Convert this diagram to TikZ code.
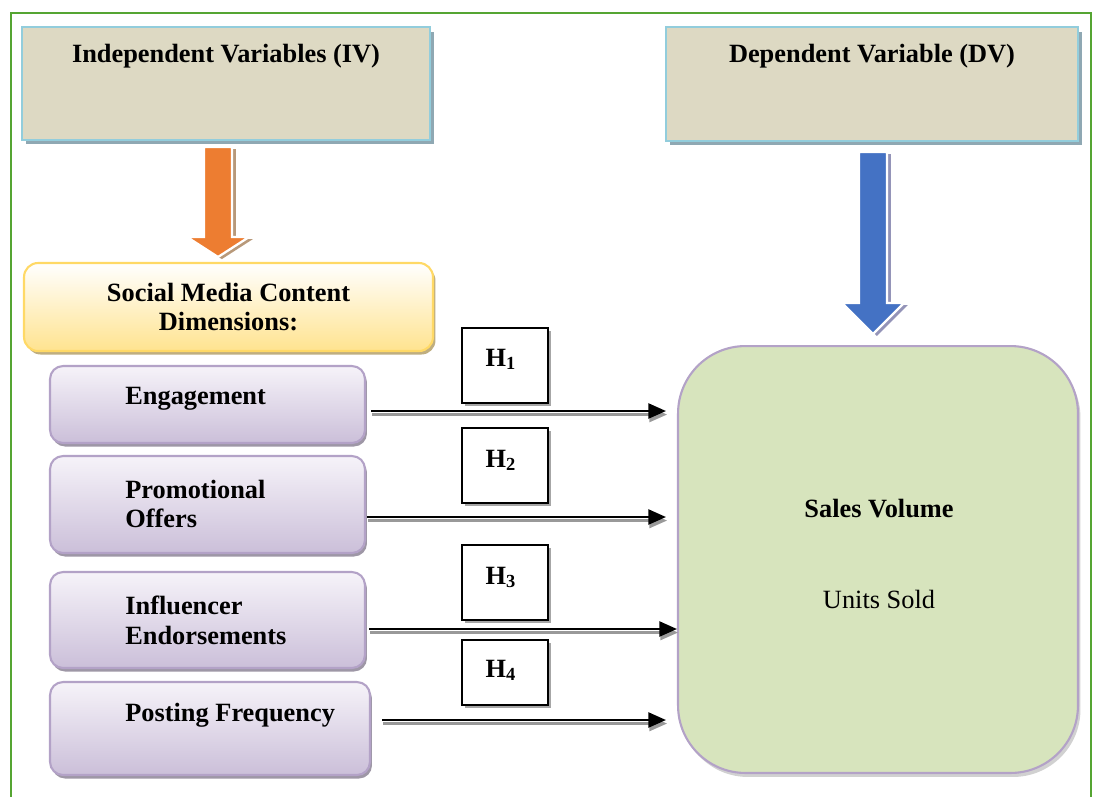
\documentclass[tikz,border=0pt]{standalone}
\usepackage{fontspec}
\setmainfont{Liberation Serif}
\usetikzlibrary{positioning}
\usetikzlibrary{arrows.meta}
\usetikzlibrary{shadows}
\definecolor{framegreen}{HTML}{55A532}
\definecolor{boxtan}{HTML}{DDD9C3}
\definecolor{boxblue}{HTML}{92CDDC}
\definecolor{boxshadow}{HTML}{8FA8B3}
\definecolor{dimyellow}{HTML}{FFE38F}
\definecolor{dimborder}{HTML}{FFD966}
\definecolor{dimshadow}{HTML}{BFAE80}
\definecolor{lavtop}{HTML}{F6F3F9}
\definecolor{lavbottom}{HTML}{CBBFD9}
\definecolor{lavborder}{HTML}{B3A2C7}
\definecolor{lavshadow}{HTML}{9E97A6}
\definecolor{salesgreen}{HTML}{D7E4BD}
\definecolor{arrorange}{HTML}{ED7D31}
\definecolor{arrblue}{HTML}{4472C4}
\tikzset{
    varbox/.style = {rectangle, draw=boxblue, line width=1.3pt, fill=boxtan, minimum width=8.16cm, minimum height=2.26cm,
        drop shadow={shadow xshift=0.08cm, shadow yshift=-0.09cm, fill=boxshadow, opacity=1}},
    dimbox/.style = {rectangle, rounded corners=0.28cm, draw=dimborder, line width=1.2pt, top color=white, bottom color=dimyellow,
        minimum width=8.18cm, minimum height=1.76cm, align=center, font=\bfseries\fontsize{15}{17}\selectfont,
        drop shadow={shadow xshift=0.05cm, shadow yshift=-0.07cm, fill=dimshadow, opacity=1}},
    lavbox/.style = {rectangle, rounded corners=0.26cm, draw=lavborder, line width=1.2pt, top color=lavtop, bottom color=lavbottom,
        minimum width=6.3cm, drop shadow={shadow xshift=0.04cm, shadow yshift=-0.07cm, fill=lavshadow, opacity=1}},
    hbox/.style = {rectangle, draw=black, line width=1.1pt, fill=white, minimum width=1.72cm, minimum height=1.5cm,
        drop shadow={shadow xshift=0.06cm, shadow yshift=-0.06cm, fill=gray!70, opacity=1}},
    salesbox/.style = {rectangle, rounded corners=1.35cm, draw=lavborder, line width=1.2pt, fill=salesgreen,
        minimum width=8cm, minimum height=8.54cm,
        drop shadow={shadow xshift=0.05cm, shadow yshift=-0.08cm, fill=black, opacity=0.18}},
    boldtext/.style = {inner sep=0pt, font=\bfseries\fontsize{15}{17}\selectfont},
    plaintext/.style = {inner sep=0pt, font=\fontsize{15}{17}\selectfont},
    link/.style = {line width=1.4pt, black, -{Triangle[length=10pt,width=8.5pt]}},
    linkg/.style = {line width=1.3pt, gray!80, -{Triangle[length=10pt,width=8.5pt]},
        transform canvas={xshift=0.6pt, yshift=-2pt}},
    bigarrow/.style = {draw=white, line width=1.3pt},
    bigshadow/.style = {transform canvas={xshift=2.2pt, yshift=-1.2pt}}
}

\begin{document}
\begin{tikzpicture}[x=0.02cm, y=-0.02cm]
\clip (0,0) rectangle (1095,796);
\draw[framegreen, line width=1.4pt] (11,13) rectangle (1091,830);

% variable headers
\node[varbox] at (226,83.5) (iv) {};
\node[boldtext, anchor=base] at (226,62) (ivt) {Independent Variables (IV)};
\node[varbox, minimum width=8.24cm, minimum height=2.28cm] at (872,84) (dv) {};
\node[boldtext, anchor=base] at (872,62) (dvt) {Dependent Variable (DV)};

% block arrows
\coordinate (oarr) at (218,147);
\fill[bigshadow, fill=brown!60!gray!80] (oarr) ++(-14,0) -- ++(28,0) -- ++(0,90) -- ++(17,0) -- ++(-31,20) -- ++(-31,-20) -- ++(17,0) -- cycle;
\filldraw[bigarrow, fill=arrorange] (oarr) ++(-14,0) -- ++(28,0) -- ++(0,90) -- ++(17,0) -- ++(-31,20) -- ++(-31,-20) -- ++(17,0) -- cycle;
\coordinate (barr) at (873,152);
\fill[bigshadow, fill=gray!80!blue!70] (barr) ++(-14,0) -- ++(28,0) -- ++(0,151) -- ++(17,0) -- ++(-31,31) -- ++(-31,-31) -- ++(17,0) -- cycle;
\filldraw[bigarrow, fill=arrblue] (barr) ++(-14,0) -- ++(28,0) -- ++(0,151) -- ++(17,0) -- ++(-31,31) -- ++(-31,-31) -- ++(17,0) -- cycle;

% dimensions
\node[dimbox] at (228.5,307) (dim) {Social Media Content\\Dimensions:};
\node[lavbox, minimum height=1.54cm] at (207.5,404.5) (eng) {};
\node[lavbox, minimum height=1.94cm] at (207.5,504.5) (promo) {};
\node[lavbox, minimum height=1.92cm] at (207.5,620) (infl) {};
\node[lavbox, minimum width=6.4cm, minimum height=1.86cm] at (210,728.5) (post) {};
\node[boldtext, anchor=west] at (125,399) (engt) {Engagement};
\node[boldtext, anchor=west, align=left] at (125,504) (promot) {Promotional\\Offers};
\node[boldtext, anchor=west, align=left] at (125,620) (inflt) {Influencer\\Endorsements};
\node[boldtext, anchor=west] at (125,715) (postt) {Posting Frequency};

% hypotheses
\node[hbox] at (505,365.5) (h1) {};
\node[hbox] at (505,465.5) (h2) {};
\node[hbox] at (505,582.5) (h3) {};
\node[hbox, minimum height=1.3cm] at (505,672.5) (h4) {};
\node[boldtext, anchor=base] at (501,366) (h1t) {H\textsubscript{1}};
\node[boldtext, anchor=base] at (501,467) (h2t) {H\textsubscript{2}};
\node[boldtext, anchor=base] at (501,584) (h3t) {H\textsubscript{3}};
\node[boldtext, anchor=base] at (501,677) (h4t) {H\textsubscript{4}};

% dependent variable
\node[salesbox] at (878,559.5) (sales) {};
\node[boldtext, anchor=base] at (879,517) (salest) {Sales Volume};
\node[plaintext, anchor=base] at (879,608) (unitst) {Units Sold};

% links
\coordinate (a1) at ([shift={(5,6.5)}]eng.east);
\coordinate (a2) at ([shift={(1,12.5)}]promo.east);
\coordinate (a3) at ([shift={(3,9)}]infl.east);
\coordinate (a4) at ([shift={(11,-8.5)}]post.east);
\draw[linkg, shorten >=0.22cm] (a1) -- (a1 -| sales.west);
\draw[link, shorten >=0.22cm] (a1) -- (a1 -| sales.west);
\draw[linkg, shorten >=0.22cm] (a2) -- (a2 -| sales.west);
\draw[link, shorten >=0.22cm] (a2) -- (a2 -| sales.west);
\draw[linkg] (a3) -- (a3 -| sales.west);
\draw[link] (a3) -- (a3 -| sales.west);
\draw[linkg, shorten >=0.22cm] (a4) -- (a4 -| sales.west);
\draw[link, shorten >=0.22cm] (a4) -- (a4 -| sales.west);

\end{tikzpicture}
\end{document}
